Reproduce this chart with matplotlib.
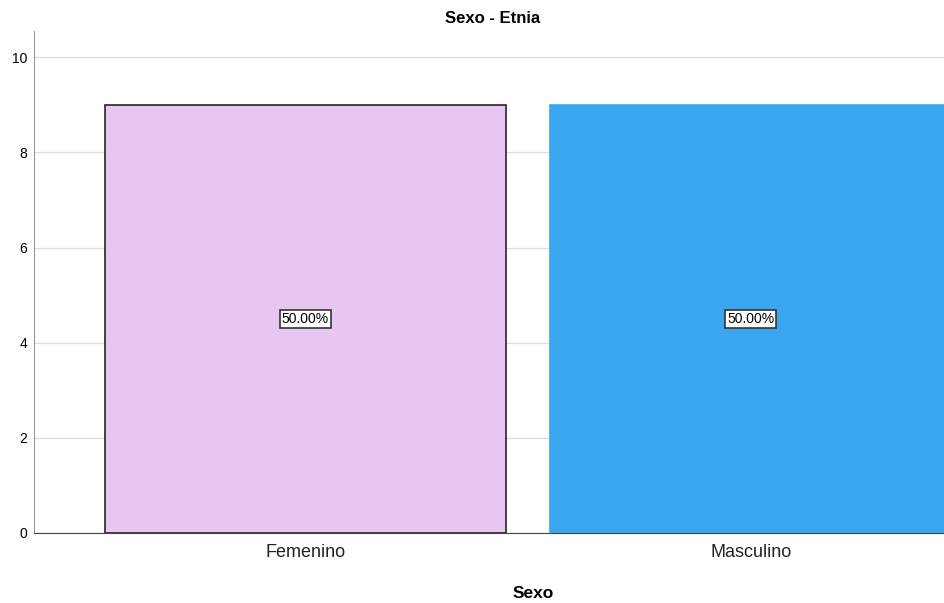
import matplotlib
matplotlib.use("Agg")
import matplotlib.pyplot as plt

categories = ["Femenino", "Masculino"]
counts = [9, 9]
percent_labels = ["50.00%", "50.00%"]
colors = ["#E8C6F2", "#3AA6F2"]
edges = ["#2b2030", "#3AA6F2"]

plt.rcParams["font.family"] = ["Liberation Sans", "DejaVu Sans"]

fig = plt.figure(figsize=(9.45, 6.03), dpi=100)
ax = fig.add_axes([34 / 945, 70 / 603, 911 / 945, 502 / 603])

x = range(len(categories))
bars = ax.bar(x, counts, width=0.9, color=colors, edgecolor=edges, linewidth=1.2, zorder=3)

for b, lab in zip(bars, percent_labels):
    ax.text(b.get_x() + b.get_width() / 2, b.get_height() / 2, lab,
            ha="center", va="center", fontsize=10, zorder=4,
            bbox=dict(boxstyle="square,pad=0.15", fc="white", ec="#333333", lw=1.2))

ax.set_xlim(-0.609, 1.436)
ax.set_ylim(0, 10.55)
ax.set_yticks([0, 2, 4, 6, 8, 10])
ax.set_xticks(list(x))
ax.set_xticklabels(categories, fontsize=13, color="#222222")
ax.tick_params(axis="y", length=0, labelsize=10, pad=5)
ax.tick_params(axis="x", length=0, pad=8)
ax.yaxis.grid(True, color="#dddddd", linewidth=1, zorder=0)

for s in ["top", "right"]:
    ax.spines[s].set_visible(False)
ax.spines["left"].set_color("#999999")
ax.spines["bottom"].set_color("#444444")

ax.set_title("Sexo - Etnia", fontsize=12, fontweight="bold", pad=6, x=0.503)
ax.set_xlabel("Sexo", fontsize=12.5, fontweight="bold")
ax.xaxis.set_label_coords(0.548, -0.12)
ax.xaxis.label.set_va("center")

fig.savefig("out.png", dpi=100)
